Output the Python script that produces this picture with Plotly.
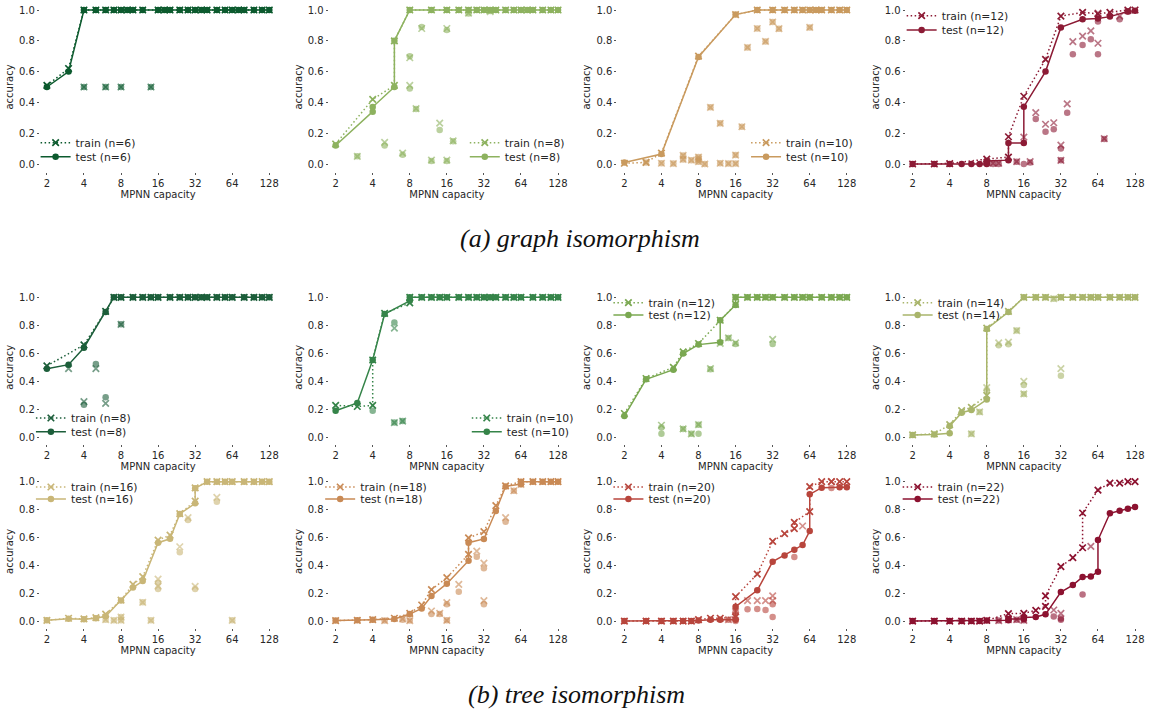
import math
import plotly.graph_objects as go

W, H = 1153, 715
TICKS = [2, 4, 8, 16, 32, 64, 128]
YTICKS = [0.0, 0.2, 0.4, 0.6, 0.8, 1.0]

# ---------------- (a) graph isomorphism ----------------
A1_N, A1_COLOR = 6, "#0c5a2e"
A1_TRAIN = [(2, .51), (3, .62), (4, 1), (5, 1), (6, 1), (7, 1), (8, 1), (9, 1), (10, 1), (12, 1), (16, 1), (18, 1), (20, 1),
            (24, 1), (28, 1), (32, 1), (36, 1), (40, 1), (48, 1), (56, 1), (64, 1), (72, 1), (80, 1), (96, 1), (112, 1), (128, 1)]
A1_TEST = [(2, .50), (3, .60), (4, 1), (5, 1), (6, 1), (7, 1), (8, 1), (9, 1), (10, 1), (12, 1), (16, 1), (18, 1), (20, 1),
           (24, 1), (28, 1), (32, 1), (36, 1), (40, 1), (48, 1), (56, 1), (64, 1), (72, 1), (80, 1), (96, 1), (112, 1), (128, 1)]
A1_XTRAIN = [(4, .50), (6, .50), (8, .50), (14, .50)]
A1_XTEST = [(4, .50), (6, .50), (8, .50), (14, .50)]

A2_N, A2_COLOR = 8, "#8db25f"
A2_TRAIN = [(2, .13), (4, .42), (6, .51), (6, .80), (8, 1), (12, 1), (16, 1), (20, 1), (24, 1), (28, 1), (32, 1), (36, 1),
            (40, 1), (48, 1), (56, 1), (64, 1), (72, 1), (80, 1), (96, 1), (112, 1), (128, 1)]
A2_TEST = [(2, .12), (4, .34), (4, .37), (6, .50), (6, .80), (8, 1), (12, 1), (16, 1), (20, 1), (24, 1), (28, 1), (32, 1),
           (36, 1), (40, 1), (48, 1), (56, 1), (64, 1), (72, 1), (80, 1), (96, 1), (112, 1), (128, 1)]
A2_XTRAIN = [(3, .05), (5, .14), (7, .07), (8, .69), (8, .51), (9, .36), (10, .88), (12, .025), (14, .265), (16, .88),
             (16, .025), (18, .15), (24, .98), (36, .99)]
A2_XTEST = [(3, .05), (5, .12), (7, .06), (8, .70), (8, .49), (9, .357), (10, .89), (12, .02), (14, .22), (16, .87),
            (16, .02), (18, .147), (24, .978), (36, .993)]

A3_N, A3_COLOR = 10, "#c99a5e"
A3_TRAIN = [(2, .005), (3, .01), (4, .07), (8, .70), (16, .97), (24, 1), (32, 1), (40, 1), (48, 1), (56, 1), (64, 1),
            (72, 1), (80, 1), (96, 1), (112, 1), (128, 1)]
A3_TEST = [(2, .01), (4, .065), (8, .695), (16, .97), (24, 1), (32, 1), (40, 1), (48, 1), (56, 1), (64, 1), (72, 1),
           (80, 1), (96, 1), (112, 1), (128, 1)]
A3_XTRAIN = [(3, .01), (4, .005), (5, .003), (6, .056), (6, .03), (7, .025), (8, .045), (8, .015), (8, .03), (9, .0),
             (10, .368), (12, .264), (12, .005), (14, .003), (16, .058), (16, .003), (18, .242), (20, .757), (24, .88),
             (28, .796), (32, .922), (36, .879), (64, .887)]
A3_XTEST = [(3, .01), (4, .005), (5, .003), (6, .056), (6, .03), (7, .025), (8, .045), (8, .015), (8, .03), (9, .0),
            (10, .368), (12, .264), (12, .005), (14, .003), (16, .058), (16, .003), (18, .242), (20, .757), (24, .88),
            (28, .796), (32, .922), (36, .879), (64, .887)]

A4_N, A4_COLOR = 12, "#8c1b35"
A4_TRAIN = [(2, 0), (3, 0), (4, .003), (8, .032), (12, .045), (12, .177), (16, .44), (24, .68), (32, .96), (48, .985),
            (64, .975), (80, .985), (112, 1), (128, 1)]
A4_TEST = [(2, 0), (3, 0), (4, 0), (5, 0), (6, 0), (7, 0), (8, 0), (8, .02), (12, .025), (12, .136), (16, .136), (16, .372),
           (24, .60), (32, .887), (48, .94), (64, .945), (80, .957), (112, .99), (128, .995)]
A4_XTRAIN = [(8, .01), (9, .005), (10, .005), (14, .015), (16, .175), (18, .015), (20, .333), (24, .258), (28, .268),
             (32, .123), (32, .024), (36, .39), (40, .794), (48, .83), (56, .864), (64, .98), (64, .784), (72, .165),
             (96, .96), (112, .995)]
A4_XTEST = [(8, .005), (8, .012), (9, 0), (10, 0), (14, .015), (16, 0), (18, .01), (20, .292), (24, .21), (28, .225),
            (32, .10), (32, .024), (36, .333), (40, .712), (48, .773), (56, .81), (64, .926), (64, .712), (72, .162),
            (96, .94), (112, .99)]

# ---------------- (b) tree isomorphism ----------------
B1_N, B1_COLOR = 8, "#1c5e3a"
B1_TRAIN = [(2, .51), (4, .66), (6, .90), (7, 1), (8, 1), (10, 1), (12, 1), (14, 1), (16, 1), (20, 1), (24, 1), (28, 1),
            (32, 1), (36, 1), (40, 1), (48, 1), (56, 1), (64, 1), (80, 1), (96, 1), (112, 1), (128, 1)]
B1_TEST = [(2, .49), (3, .519), (4, .64), (6, .895), (7, 1), (8, 1), (10, 1), (12, 1), (14, 1), (16, 1), (20, 1), (24, 1),
           (28, 1), (32, 1), (36, 1), (40, 1), (48, 1), (56, 1), (64, 1), (80, 1), (96, 1), (112, 1), (128, 1)]
B1_XTRAIN = [(3, .49), (4, .255), (5, .49), (6, .243), (8, .807)]
B1_XTEST = [(4, .233), (5, .524), (6, .286), (8, .807)]

B2_N, B2_COLOR = 10, "#358449"
B2_TRAIN = [(2, .228), (3, .22), (4, .228), (4, .552), (5, .885), (8, .96), (8, 1), (10, 1), (12, 1), (14, 1), (16, 1),
            (20, 1), (24, 1), (28, 1), (32, 1), (36, 1), (40, 1), (48, 1), (56, 1), (64, 1), (80, 1), (96, 1), (112, 1), (128, 1)]
B2_TEST = [(2, .19), (3, .245), (4, .552), (5, .88), (8, .975), (8, 1), (10, 1), (12, 1), (14, 1), (16, 1), (20, 1),
           (24, 1), (28, 1), (32, 1), (36, 1), (40, 1), (48, 1), (56, 1), (64, 1), (80, 1), (96, 1), (112, 1), (128, 1)]
B2_XTRAIN = [(6, .78), (6, .105), (7, .115)]
B2_XTEST = [(4, .19), (6, .82), (6, .105), (7, .117)]

B3_N, B3_COLOR = 12, "#7aa851"
B3_TRAIN = [(2, .17), (3, .42), (5, .50), (6, .61), (8, .67), (12, .836), (16, .95), (16, 1), (20, 1), (24, 1), (28, 1),
            (32, 1), (40, 1), (48, 1), (56, 1), (64, 1), (80, 1), (96, 1), (112, 1), (128, 1)]
B3_TEST = [(2, .152), (3, .414), (5, .483), (6, .598), (8, .662), (12, .679), (12, .836), (16, .945), (16, 1), (20, 1),
           (24, 1), (28, 1), (32, 1), (40, 1), (48, 1), (56, 1), (64, 1), (80, 1), (96, 1), (112, 1), (128, 1)]
B3_XTRAIN = [(4, .086), (6, .06), (7, .025), (8, .09), (10, .49), (12, .671), (14, .71), (16, .675), (32, .70)]
B3_XTEST = [(4, .026), (4, .07), (6, .06), (7, .026), (8, .026), (8, .09), (10, .486), (14, .71), (16, .667), (32, .667)]

B4_N, B4_COLOR = 14, "#a9b56b"
B4_TRAIN = [(2, .017), (3, .025), (4, .09), (5, .19), (6, .214), (8, .30), (8, .78), (12, .90), (16, 1), (20, 1), (24, 1),
            (32, 1), (40, 1), (48, 1), (56, 1), (64, 1), (80, 1), (96, 1), (112, 1), (128, 1)]
B4_TEST = [(2, .017), (3, .02), (4, .029), (4, .08), (5, .176), (6, .195), (8, .27), (8, .774), (12, .895), (16, 1),
           (20, 1), (24, 1), (32, 1), (40, 1), (48, 1), (56, 1), (64, 1), (80, 1), (96, 1), (112, 1), (128, 1)]
B4_XTRAIN = [(6, .025), (7, .181), (8, .355), (10, .674), (12, .68), (14, .762), (16, .40), (16, .31), (28, .99), (32, .49)]
B4_XTEST = [(6, .025), (7, .181), (8, .338), (10, .657), (12, .664), (14, .762), (16, .374), (16, .31), (28, .99), (32, .44)]

B5_N, B5_COLOR = 16, "#c9b677"
B5_TRAIN = [(2, .005), (3, .02), (4, .015), (5, .025), (6, .05), (8, .15), (10, .263), (12, .318), (16, .58), (20, .617),
            (24, .77), (32, .861), (32, .955), (40, 1), (48, 1), (56, 1), (64, 1), (80, 1), (96, 1), (112, 1), (128, 1)]
B5_TEST = [(2, .005), (3, .017), (4, .012), (5, .02), (6, .034), (8, .148), (10, .24), (12, .287), (16, .562), (20, .59),
           (24, .768), (32, .845), (32, .952), (40, 1), (48, 1), (56, 1), (64, 1), (80, 1), (96, 1), (112, 1), (128, 1)]
B5_XTRAIN = [(6, .01), (7, .005), (8, .029), (8, .005), (12, .134), (14, .005), (16, .30), (16, .25), (24, .533),
             (28, .742), (32, .249), (48, .888), (64, .005)]
B5_XTEST = [(6, .01), (7, .005), (8, .029), (8, .005), (12, .134), (14, .005), (16, .275), (16, .23), (24, .493),
            (28, .725), (32, .23), (48, .856), (64, .005)]

B6_N, B6_COLOR = 18, "#c98a55"
B6_TRAIN = [(2, .003), (3, .005), (4, .01), (6, .02), (8, .055), (10, .115), (12, .225), (16, .311), (24, .478), (24, .596),
            (32, .641), (40, .828), (48, .97), (64, 1), (80, 1), (96, 1), (112, 1), (128, 1)]
B6_TEST = [(2, .003), (3, .005), (4, .01), (6, .015), (8, .05), (10, .09), (12, .18), (16, .268), (24, .433), (24, .562),
           (32, .589), (40, .79), (48, .966), (64, .983), (64, 1), (80, 1), (96, 1), (112, 1), (128, 1)]
B6_XTRAIN = [(5, .003), (7, .015), (8, .003), (12, .072), (14, .055), (16, .132), (16, .005), (20, .263), (28, .502),
             (32, .416), (32, .146), (48, .742), (56, .935), (64, .98)]
B6_XTEST = [(5, .003), (7, .01), (8, .003), (12, .05), (14, .05), (16, .12), (16, .005), (20, .21), (28, .462),
            (32, .378), (32, .12), (48, .713), (56, .935), (64, .98)]

B7_N, B7_COLOR = 20, "#b8453c"
B7_TRAIN = [(2, 0), (3, 0), (4, 0), (5, 0), (6, 0), (7, 0), (8, .01), (10, .02), (12, .02), (16, .03), (16, .175), (24, .337),
            (32, .572), (40, .627), (48, .663), (48, .708), (64, .785), (64, .964), (80, 1), (96, 1), (112, 1), (128, 1)]
B7_TEST = [(2, 0), (3, 0), (4, 0), (5, 0), (6, 0), (7, 0), (8, .003), (10, .01), (12, .01), (16, .01), (16, .103), (24, .22),
           (32, .426), (40, .471), (48, .512), (56, .545), (64, .646), (64, .909), (80, .957), (112, .96), (128, .96)]
B7_XTRAIN = [(14, .01), (16, .04), (16, .067), (20, .146), (24, .146), (28, .146), (32, .18), (32, .146), (56, .682), (96, 1)]
B7_XTEST = [(14, .01), (16, 0), (16, .067), (20, .084), (24, .086), (28, .079), (32, .12), (32, .029), (48, .46), (96, .955)]

B8_N, B8_COLOR = 22, "#8c1230"
B8_TRAIN = [(2, 0), (3, 0), (4, 0), (5, 0), (6, 0), (7, 0), (8, .005), (12, .053), (16, .055), (20, .077), (24, .105),
            (24, .18), (32, .39), (40, .455), (48, .526), (48, .775), (64, .94), (80, .99), (96, .99), (112, 1), (128, 1)]
B8_TEST = [(2, 0), (3, 0), (4, 0), (5, 0), (6, 0), (7, 0), (8, .003), (12, .005), (12, .015), (16, .015), (16, .025),
           (20, .029), (24, .048), (32, .208), (40, .258), (48, .316), (56, .32), (64, .354), (64, .581), (80, .773),
           (96, .792), (112, .806), (128, .818)]
B8_XTRAIN = [(10, .003), (12, .01), (14, .01), (16, .005), (28, .079), (32, .055), (56, .536)]
B8_XTEST = [(10, .003), (12, .01), (14, .01), (16, .005), (28, .033), (32, .019), (32, .01), (48, .19)]

CAPTION_A = "(a) graph isomorphism"
CAPTION_B = "(b) tree isomorphism"

# panel: (row, col, n, color, train, test, extra train, extra test)
PANELS = [
    (0, 0, A1_N, A1_COLOR, A1_TRAIN, A1_TEST, A1_XTRAIN, A1_XTEST),
    (0, 1, A2_N, A2_COLOR, A2_TRAIN, A2_TEST, A2_XTRAIN, A2_XTEST),
    (0, 2, A3_N, A3_COLOR, A3_TRAIN, A3_TEST, A3_XTRAIN, A3_XTEST),
    (0, 3, A4_N, A4_COLOR, A4_TRAIN, A4_TEST, A4_XTRAIN, A4_XTEST),
    (1, 0, B1_N, B1_COLOR, B1_TRAIN, B1_TEST, B1_XTRAIN, B1_XTEST),
    (1, 1, B2_N, B2_COLOR, B2_TRAIN, B2_TEST, B2_XTRAIN, B2_XTEST),
    (1, 2, B3_N, B3_COLOR, B3_TRAIN, B3_TEST, B3_XTRAIN, B3_XTEST),
    (1, 3, B4_N, B4_COLOR, B4_TRAIN, B4_TEST, B4_XTRAIN, B4_XTEST),
    (2, 0, B5_N, B5_COLOR, B5_TRAIN, B5_TEST, B5_XTRAIN, B5_XTEST),
    (2, 1, B6_N, B6_COLOR, B6_TRAIN, B6_TEST, B6_XTRAIN, B6_XTEST),
    (2, 2, B7_N, B7_COLOR, B7_TRAIN, B7_TEST, B7_XTRAIN, B7_XTEST),
    (2, 3, B8_N, B8_COLOR, B8_TRAIN, B8_TEST, B8_XTRAIN, B8_XTEST),
]

# ---------------- layout geometry (pixels) ----------------
COL_LEFT = [40, 329.5, 619, 908]
AX_W = 237
ROW_TB = [(2.3, 171.7), (290.3, 444.3), (474.7, 628.0)]
# legend placement per panel: (text start x, train row y, test row y) in pixels
LEGEND_POS = [
    (75.7, 142.7, 156.7), (506, 142.7, 156.7), (788, 142.7, 156.7), (944, 15.7, 30.0),
    (71, 418.0, 431.7), (508, 418.0, 431.7), (650, 302.7, 315.0), (940, 302.7, 315.0),
    (71, 487.0, 499.0), (361, 487.0, 499.0), (650, 487.0, 499.0), (940, 487.0, 499.0),
]
PAD_OCT = 7 / 37.17
L2 = math.log10(2)
XR = [math.log10(2) - PAD_OCT * L2, math.log10(128) + PAD_OCT * L2]

FONT = "DejaVu Sans"
TXT = "#262626"
DOT = "1.5px,2.5px"


def rgba(h, a):
    h = h.lstrip("#")
    r, g, b = int(h[0:2], 16), int(h[2:4], 16), int(h[4:6], 16)
    return f"rgba({r},{g},{b},{a})"


def xs(pts):
    return [p[0] for p in pts]


def ys(pts):
    return [p[1] for p in pts]


def legend_name(k):
    return "legend" if k == 1 else f"legend{k}"


fig = go.Figure()
layout = {}

for i, (row, col, n, color, train, test, xtrain, xtest) in enumerate(PANELS, start=1):
    sfx = "" if i == 1 else str(i)
    xa, ya = f"x{sfx}", f"y{sfx}"
    x0 = COL_LEFT[col] / W
    x1 = (COL_LEFT[col] + AX_W) / W
    top, bot = ROW_TB[row]
    y0 = 1 - bot / H
    y1 = 1 - top / H
    light = rgba(color, 0.6)
    tx, ytr, yte = LEGEND_POS[i - 1]
    lg_train = legend_name(2 * i - 1)
    lg_test = legend_name(2 * i)

    fig.add_trace(go.Scatter(x=xs(xtrain), y=ys(xtrain), mode="markers", xaxis=xa, yaxis=ya, showlegend=False,
                             marker=dict(symbol="x-thin", size=6.5, line=dict(width=1.7, color=light)),
                             hoverinfo="skip"))
    fig.add_trace(go.Scatter(x=xs(xtest), y=ys(xtest), mode="markers", xaxis=xa, yaxis=ya, showlegend=False,
                             marker=dict(symbol="circle", size=6.5, color=light, line=dict(width=0)),
                             hoverinfo="skip"))
    fig.add_trace(go.Scatter(x=xs(train), y=ys(train), mode="lines+markers", xaxis=xa, yaxis=ya,
                             name=f"train (n={n})", legend=lg_train,
                             line=dict(color=color, width=1.5, dash=DOT),
                             marker=dict(symbol="x-thin", size=6.5, line=dict(width=1.7, color=color))))
    fig.add_trace(go.Scatter(x=xs(test), y=ys(test), mode="lines+markers", xaxis=xa, yaxis=ya,
                             name=f"test (n={n})", legend=lg_test,
                             line=dict(color=color, width=1.5),
                             marker=dict(symbol="circle", size=6.5, color=color, line=dict(width=0))))

    axis_common = dict(showgrid=False, zeroline=False, showline=False, ticks="outside", ticklen=2, tickwidth=1,
                       tickcolor="#555555", tickfont=dict(family=FONT, size=10, color=TXT))
    layout["xaxis" + sfx] = dict(axis_common, domain=[x0, x1], anchor=ya, type="log", range=XR,
                                 tickvals=TICKS, ticktext=[str(t) for t in TICKS],
                                 title=dict(text="MPNN capacity", font=dict(family=FONT, size=10, color=TXT), standoff=2))
    layout["yaxis" + sfx] = dict(axis_common, domain=[y0, y1], anchor=xa, range=[-0.05, 1.05],
                                 tickvals=YTICKS, ticktext=[f"{v:.1f}" for v in YTICKS],
                                 title=dict(text="accuracy", font=dict(family=FONT, size=10, color=TXT), standoff=3))

    for lg, yy in ((lg_train, ytr), (lg_test, yte)):
        layout[lg] = dict(x=(tx - 40) / W, y=1 - yy / H, xanchor="left", yanchor="middle",
                          bgcolor="rgba(0,0,0,0)", borderwidth=0,
                          font=dict(family=FONT, size=10.8, color=TXT), itemwidth=30)

fig.update_layout(**layout)
fig.update_layout(
    width=W, height=H, margin=dict(l=0, r=0, t=0, b=0),
    paper_bgcolor="white", plot_bgcolor="white",
    annotations=[
        dict(text=f"<i>{CAPTION_A}</i>", x=582 / W, y=1 - 238 / H, xref="paper", yref="paper", showarrow=False,
             xanchor="center", yanchor="middle", font=dict(family="Liberation Serif", size=26, color="#111111")),
        dict(text=f"<i>{CAPTION_B}</i>", x=578 / W, y=1 - 694 / H, xref="paper", yref="paper", showarrow=False,
             xanchor="center", yanchor="middle", font=dict(family="Liberation Serif", size=26, color="#111111")),
    ],
)

fig.write_html("out.html", config={"displayModeBar": False},
               post_script="document.body.style.margin='0';document.body.style.overflow='hidden';")
